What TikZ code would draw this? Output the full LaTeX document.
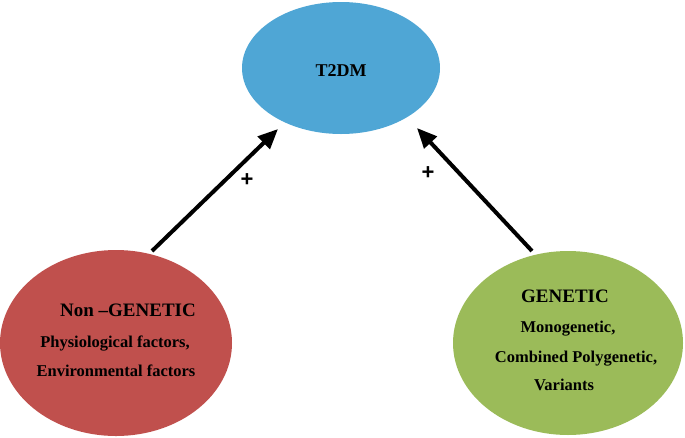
\documentclass[tikz,border=0pt]{standalone}
\usepackage{fontspec}
\setmainfont{Liberation Serif}
\newfontfamily\plusfont{Liberation Sans}
\usetikzlibrary{shapes.geometric,arrows.meta}
\definecolor{cblue}{RGB}{79,166,213}
\definecolor{cred}{RGB}{192,80,77}
\definecolor{cgreen}{RGB}{155,187,89}
\tikzset{
  blob/.style={ellipse,inner sep=0pt,draw=none},
  big/.style={font=\fontsize{19}{22}\selectfont\bfseries,anchor=base,inner sep=0pt},
  small/.style={font=\fontsize{16.5}{19}\selectfont\bfseries,anchor=base,inner sep=0pt},
  link/.style={line width=4pt,-{Triangle[length=20pt,width=17pt]}},
  plus/.style={font=\plusfont\fontsize{22}{24}\selectfont\bfseries,inner sep=0pt}
}
\begin{document}
\begin{tikzpicture}[x=1pt,y=-1pt]
\useasboundingbox (0,0) rectangle (685,437);
\node[blob,fill=cblue,minimum width=198pt,minimum height=132pt] (t2dm) at (341,68) {};
\node[blob,fill=cred,minimum width=232pt,minimum height=186pt] (nongen) at (116,343) {};
\node[blob,fill=cgreen,minimum width=230pt,minimum height=184pt] (gen) at (568,343) {};
\node[big,font=\fontsize{18}{22}\selectfont\bfseries] (t2dmtxt) at (341,76) {T2DM};
\node[big] (ngh) at (128,316) {Non –GENETIC};
\node[small] (ng1) at (115,347) {Physiological factors,};
\node[small] (ng2) at (116,376) {Environmental factors};
\node[big] (gh) at (565,302) {GENETIC};
\node[small] (g1) at (568,332) {Monogenetic,};
\node[small] (g2) at (576,362) {Combined Polygenetic,};
\node[small] (g3) at (564,390) {Variants};
\coordinate (a1s) at (152,251);
\coordinate (a1e) at (278,129);
\coordinate (a2s) at (532,251);
\coordinate (a2e) at (417,128);
\draw[link] (a1s) -- (a1e);
\draw[link] (a2s) -- (a2e);
\node[plus] (p1) at (247,180) {+};
\node[plus] (p2) at (428,173) {+};
\end{tikzpicture}
\end{document}
